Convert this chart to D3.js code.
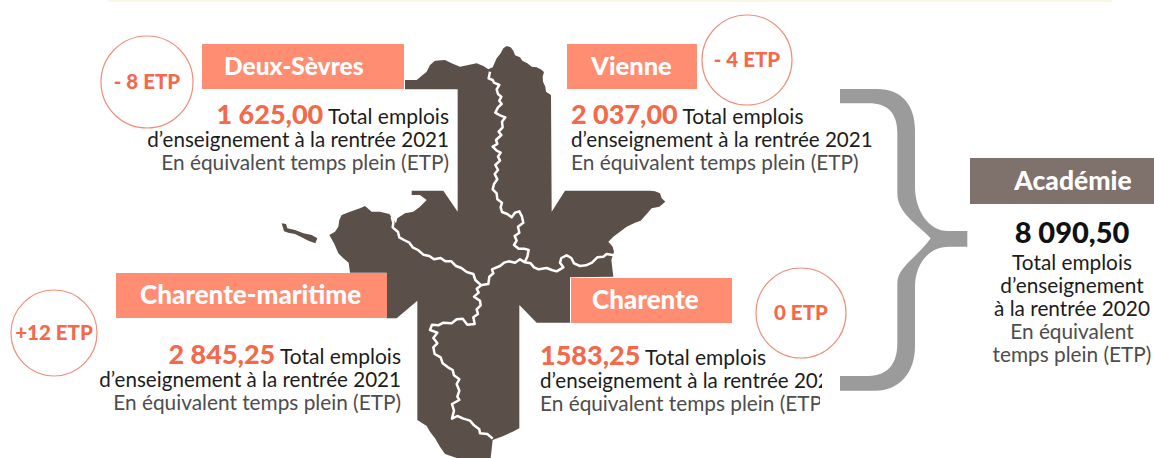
<!DOCTYPE html>
<html>
<head>
<meta charset="utf-8">
<script src="https://cdn.jsdelivr.net/npm/d3@7"></script>
<style>
html, body { margin: 0; padding: 0; background: #fff; }
svg { display: block; font-family: Lato, "Open Sans", sans-serif; }
</style>
</head>
<body>
<div id="viz"></div>
<script>
// data
var departments = ["Deux-Sèvres", "Vienne", "Charente-maritime", "Charente"];
var totals = ["1 625,00", "2 037,00", "2 845,25", "1583,25"];
var deltas = ["- 8 ETP", "- 4 ETP", "+12 ETP", "0 ETP"];
var line1 = " Total emplois";
var line2 = "d’enseignement à la rentrée 2021";
var line3 = "En équivalent temps plein (ETP)";

var academieName = "Académie";
var academieTotal = "8 090,50";
var academieLines = ["Total emplois", "d’enseignement", "à la rentrée 2020", "En équivalent", "temps plein (ETP)"];

// map outline and borders, in units of 1/3 px from the map's corner
var outline = [[710,48],[722,52],[730,62],[735,76],[750,82],[757,92],[772,100],[785,110],[800,112],[812,118],[822,126],[818,140],[819,155],[826,170],[828,185],[843,195],
  [845,545],[885,482],[1140,482],[1155,484],[1170,490],[1175,505],[1186,515],[1168,530],[1145,535],[1130,552],[1112,572],[1095,578],[1070,590],[1050,605],[1030,620],[1015,635],[1028,650],[1032,665],[1024,690],[1030,740],
  [900,742],[900,878],[800,878],[748,825],[748,1195],[728,1205],[700,1218],[668,1230],[662,1284],
  [560,1284],[525,1272],[510,1250],[495,1225],[480,1205],[470,1188],[442,1170],[442,812],[380,865],[350,865],[350,728],
  [240,728],[236,698],[220,685],[205,670],[192,640],[178,615],[195,605],[205,590],[208,570],[215,555],[240,545],[270,535],[285,528],[305,545],[330,545],[358,552],[378,580],
  [382,565],[405,550],[430,545],[450,530],[470,510],[450,495],[425,495],[425,482],[520,482],[563,545],[563,178],[405,178],[405,150],[440,150],[458,135],[470,125],[480,105],[495,92],[525,90],[545,100],[570,110],[595,105],[620,100],[640,108],[655,118],[668,112],[680,85],[692,70],[700,55]];

var island = [[35,580],[48,582],[52,595],[75,600],[100,610],[125,615],[142,625],[136,640],[115,632],[95,622],[75,612],[55,608],[42,604]];

var borders = [
  [[660,125],[656,145],[668,150],[672,158],[688,165],[680,178],[684,192],[694,200],[688,212],[695,222],[684,232],[676,248],[690,256],[706,262],[696,275],[698,292],[686,305],[694,315],[678,330],[682,342],[668,350],[680,362],[692,368],[684,380],[690,392],[676,405],[684,420],[674,432],[682,448],[672,462],[668,478],[680,490],[682,508],[696,518],[692,532],[696,546],[712,552],[725,562],[735,548],[748,544],[756,560],[760,578],[744,590],[748,608],[734,618],[740,632],[732,645],[746,656],[762,656],[776,660],[772,680],[764,697]],
  [[365,560],[370,578],[368,592],[384,606],[388,622],[402,630],[418,638],[428,652],[444,660],[460,674],[478,678],[492,688],[512,684],[526,694],[544,694],[558,708],[574,714],[590,726],[610,732],[616,750],[634,766]],
  [[635,765],[655,762],[658,740],[670,730],[666,718],[690,708],[702,698],[716,694],[735,698],[750,688],[765,697],[782,700],[792,712],[806,718],[830,714],[845,720],[860,724],[880,712],[870,698],[874,684],[890,676],[904,684],[912,700],[930,708],[948,706],[966,698],[982,682],[1000,680],[1010,672],[1032,676]],
  [[635,765],[620,776],[626,788],[612,800],[630,812],[632,826],[620,838],[624,852],[610,862],[614,882],[592,884],[578,866],[560,868],[545,880],[520,878],[505,886],[486,884],[480,900],[502,908],[490,924],[502,940],[490,952],[494,972],[512,982],[518,1000],[534,1012],[548,1020],[552,1036],[568,1048],[560,1062],[568,1082],[562,1100],[568,1110],[546,1122],[552,1142],[546,1166],[562,1158],[580,1166],[600,1172],[612,1186],[628,1198],[630,1210],[652,1212],[668,1226]]
];

var braceDef = "M60,57 H170 C250,57 285,110 285,180 V350 C285,420 325,483 385,483 H442 V530 H385 C325,530 285,585 285,650 V830 C285,905 240,962 165,962 H60 V918 H145 C205,918 232,880 232,820 V640 C232,590 290,565 332,505 C290,460 232,430 232,370 V190 C232,130 205,100 145,100 H60 Z";

var svg = d3.select("#viz").append("svg").attr("width", 1154).attr("height", 458);

// faint strip left over at the top of the picture
svg.append("rect").attr("x", 108).attr("y", 0).attr("width", 1004).attr("height", 2).attr("fill", "#fbf7e6");

// map
var mapX = d3.scaleLinear().domain([0, 1200]).range([270, 670]);
var mapY = d3.scaleLinear().domain([0, 1284]).range([30, 458]);
var mapLine = d3.line().x(function(d) { return mapX(d[0]); }).y(function(d) { return mapY(d[1]); });

svg.append("path").attr("d", mapLine(outline) + "Z").attr("fill", "#5b4f4a");
svg.append("path").attr("d", mapLine(island) + "Z").attr("fill", "#5b4f4a");

svg.selectAll(".border").data(borders).enter().append("path")
  .attr("class", "border")
  .attr("d", mapLine)
  .attr("fill", "none")
  .attr("stroke", "#fff")
  .attr("stroke-width", 2.5)
  .attr("stroke-linejoin", "round");

// layout of the four blocks
var boxes = [
  { x: 202, y: 44, w: 202, tx: 224, fs: 24.5, cx: 147, cy: 82, r: 46, textX: 449, textAnchor: "end", base: 124 },
  { x: 567, y: 44, w: 130, tx: 591, fs: 25.5, cx: 747, cy: 60, r: 45, textX: 571, textAnchor: "start", base: 124 },
  { x: 116, y: 273, w: 271, tx: 140, fs: 26, cx: 54, cy: 333, r: 43, textX: 401, textAnchor: "end", base: 364 },
  { x: 571, y: 278, w: 161, tx: 592, fs: 26, cx: 801, cy: 313, r: 45, textX: 540, textAnchor: "start", base: 365 }
];

departments.forEach(function(name, i) {
  var b = boxes[i];
  var g = svg.append("g");
  g.append("rect").attr("x", b.x).attr("y", b.y).attr("width", b.w).attr("height", 45).attr("fill", "#ff8d72");
  g.append("text").attr("x", b.tx).attr("y", b.y + 31).attr("fill", "#fff")
    .attr("font-size", b.fs).attr("font-weight", 900).text(name);

  g.append("circle").attr("cx", b.cx).attr("cy", b.cy).attr("r", b.r)
    .attr("fill", "#fff").attr("stroke", "#ee8f7a").attr("stroke-width", 1.2);
  g.append("text").attr("x", b.cx).attr("y", b.cy + 7).attr("text-anchor", "middle")
    .attr("fill", "#f4694a").attr("font-size", 20.5).attr("font-weight", 900).text(deltas[i]);

  var t1 = g.append("text").attr("x", b.textX).attr("y", b.base).attr("text-anchor", b.textAnchor)
    .attr("fill", "#1c1c1c").attr("font-size", 21);
  t1.append("tspan").attr("fill", "#f4694a").attr("font-size", 27).attr("font-weight", 900).text(totals[i]);
  t1.append("tspan").text(line1);
  g.append("text").attr("x", b.textX).attr("y", b.base + 23).attr("text-anchor", b.textAnchor)
    .attr("fill", "#1c1c1c").attr("font-size", 20.6).text(line2);
  g.append("text").attr("x", b.textX).attr("y", b.base + 46).attr("text-anchor", b.textAnchor)
    .attr("fill", "#4d4d4d").attr("font-size", 20.8).text(line3);
});

// the Charente text is cut by a white box in the original
svg.append("rect").attr("x", 822).attr("y", 368).attr("width", 71).attr("height", 24).attr("fill", "#fff");
svg.append("rect").attr("x", 820).attr("y", 392).attr("width", 73).attr("height", 26).attr("fill", "#fff");

// brace
svg.append("path")
  .attr("d", braceDef)
  .attr("transform", "translate(820,70) scale(0.3333)")
  .attr("fill", "#9b9b9b");

// académie block
svg.append("rect").attr("x", 970).attr("y", 158).attr("width", 184).attr("height", 46).attr("fill", "#7f716b");
svg.append("text").attr("x", 1073).attr("y", 190).attr("text-anchor", "middle").attr("fill", "#fff")
  .attr("font-size", 26.5).attr("font-weight", 900).text(academieName);
svg.append("text").attr("x", 1072).attr("y", 243).attr("text-anchor", "middle").attr("fill", "#111")
  .attr("font-size", 29).attr("font-weight", 900).text(academieTotal);
svg.selectAll(".aca").data(academieLines).enter().append("text")
  .attr("class", "aca")
  .attr("x", 1072)
  .attr("y", function(d, i) { return 270 + i * 23; })
  .attr("text-anchor", "middle")
  .attr("font-size", 20.8)
  .attr("fill", function(d, i) { return i < 3 ? "#1c1c1c" : "#4d4d4d"; })
  .text(function(d) { return d; });
</script>
</body>
</html>
